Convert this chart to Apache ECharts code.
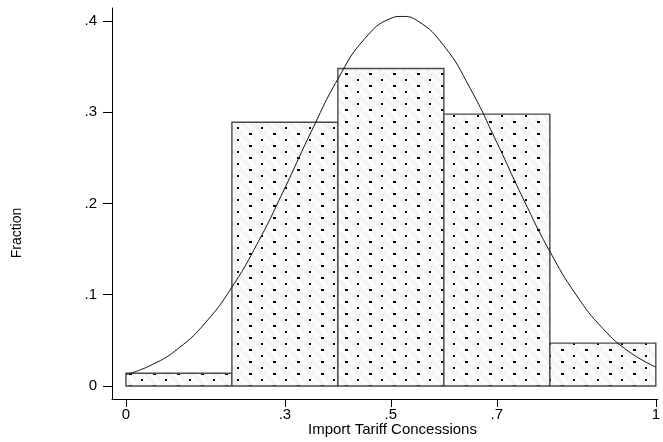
<!DOCTYPE html>
<html>
<head>
<meta charset="utf-8">
<script src="https://cdn.jsdelivr.net/npm/echarts@6/dist/echarts.min.js"></script>
<style>
  html, body { margin: 0; padding: 0; background: #fff; }
  #chart { width: 663px; height: 442px; }
</style>
</head>
<body>
<div id="chart"></div>
<script>
// Histogram bins (fraction of observations per bin)
const binStart = [0, 0.2, 0.4, 0.6, 0.8];
const binEnd = [0.2, 0.4, 0.6, 0.8, 1.0];
const fraction = [0.014, 0.289, 0.348, 0.298, 0.047];

// Overlaid normal density curve (scaled to fraction)
const curveX = [0, 0.05, 0.10, 0.15, 0.20, 0.25, 0.30, 0.35, 0.40, 0.45, 0.50, 0.52,
                0.55, 0.60, 0.65, 0.70, 0.75, 0.80, 0.85, 0.90, 0.95, 1.00];
const curveY = [0.0124, 0.0235, 0.0417, 0.0694, 0.1083, 0.1583, 0.2171, 0.2791, 0.3364,
                0.3802, 0.4029, 0.4050, 0.4003, 0.3729, 0.3258, 0.2668, 0.2049, 0.1475,
                0.0996, 0.0630, 0.0374, 0.0208];

// Tick positions and labels
const xTicks = [0, 0.3, 0.5, 0.7, 1];
const yTicks = [0, 0.1, 0.2, 0.3, 0.4];
const xTitle = 'Import Tariff Concessions';
const yTitle = 'Fraction';

function tickText(v) {
  if (v === 0) return '0';
  if (v === 1) return '1';
  return String(+v.toFixed(2)).replace(/^0/, '');
}

// Dotted fill: light dithered background with staggered black dots
function makeDotPattern() {
  const c = document.createElement('canvas');
  c.width = 24; c.height = 12;
  const ctx = c.getContext('2d');
  ctx.fillStyle = '#fbfbfb';
  ctx.fillRect(0, 0, 24, 12);
  ctx.fillStyle = '#ebebeb';
  for (let y = 0; y < 12; y++) {
    for (let x = 0; x < 24; x++) {
      if ((x + y) % 2 === 0 && (x * 7 + y * 3) % 5 < 2) ctx.fillRect(x, y, 1, 1);
    }
  }
  ctx.fillStyle = '#000';
  ctx.fillRect(9, 1, 3, 2);
  ctx.fillRect(21, 7, 2, 2);
  return c;
}
const dotPattern = makeDotPattern();

const bars = binStart.map((s, i) => [s, binEnd[i], fraction[i]]);
const curve = curveX.map((x, i) => [x, curveY[i]]);

const chart = echarts.init(document.getElementById('chart'), null, { renderer: 'canvas' });

const axisFont = { fontFamily: 'Liberation Sans, Arial, sans-serif', fontSize: 15, color: '#000' };

chart.setOption({
  animation: false,
  backgroundColor: '#fff',
  grid: { left: 112, right: 2, top: 8, bottom: 43, containLabel: false },
  xAxis: {
    type: 'value',
    min: -0.02627,
    max: 1.00375,
    axisLine: { show: true, onZero: false, lineStyle: { color: '#000', width: 1 } },
    axisTick: { show: true, length: 8, customValues: xTicks, lineStyle: { color: '#000', width: 1 } },
    axisLabel: Object.assign({ customValues: xTicks, margin: 8, formatter: tickText }, axisFont),
    splitLine: { show: false }
  },
  yAxis: {
    type: 'value',
    min: -0.014247,
    max: 0.414247,
    axisLine: { show: true, onZero: false, lineStyle: { color: '#000', width: 1 } },
    axisTick: { show: true, length: 9, customValues: yTicks, lineStyle: { color: '#000', width: 1 } },
    axisLabel: Object.assign({ customValues: yTicks, margin: 15, formatter: tickText }, axisFont),
    splitLine: { show: false }
  },
  graphic: [
    {
      type: 'text',
      left: 393 - 85, top: 422,
      style: { text: xTitle, font: '15px "Liberation Sans", Arial, sans-serif', fill: '#000' }
    },
    {
      type: 'text',
      x: 10, y: 233,
      rotation: Math.PI / 2,
      style: {
        text: yTitle, font: '14px "Liberation Sans", Arial, sans-serif', fill: '#000',
        align: 'center', verticalAlign: 'top'
      }
    }
  ],
  series: [
    {
      type: 'custom',
      data: bars,
      encode: { x: [0, 1], y: 2 },
      renderItem: function (params, api) {
        const p0 = api.coord([api.value(0), 0]);
        const p1 = api.coord([api.value(1), api.value(2)]);
        return {
          type: 'rect',
          shape: { x: p0[0], y: p1[1], width: p1[0] - p0[0], height: p0[1] - p1[1] },
          style: { fill: { image: dotPattern, repeat: 'repeat' }, stroke: '#4a4a4a', lineWidth: 1.4 }
        };
      },
      z: 2
    },
    {
      type: 'line',
      data: curve,
      smooth: true,
      showSymbol: false,
      lineStyle: { color: '#111', width: 1 },
      z: 3
    }
  ]
});
</script>
</body>
</html>
